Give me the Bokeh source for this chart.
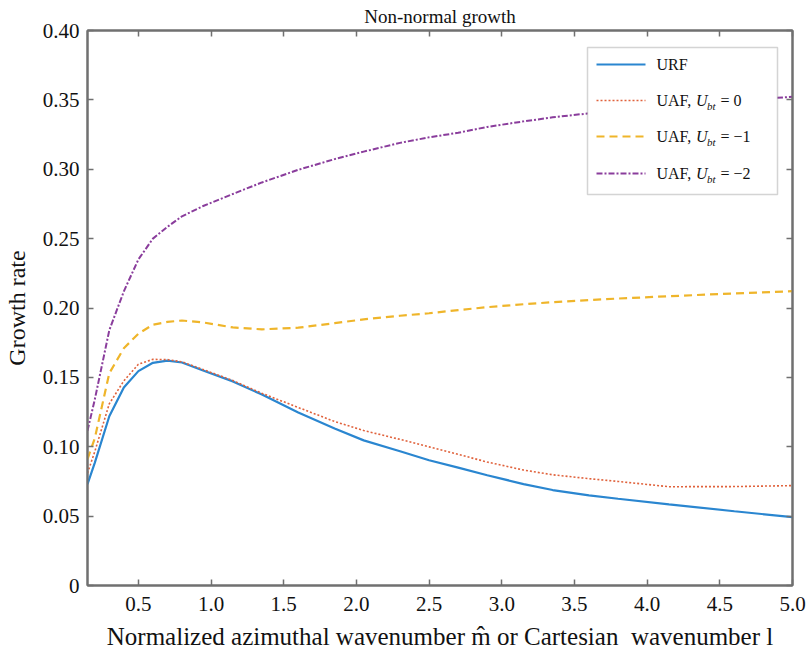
from bokeh.plotting import figure
from bokeh.models import (LinearAxis, FixedTicker, CustomJSTickFormatter, Range1d,
                          Label, Arrow, BoxAnnotation)
from bokeh.embed import file_html
from bokeh.resources import INLINE

# ---------------- data ----------------
wavenumber = [0.15, 0.2, 0.3, 0.4, 0.5, 0.6, 0.7, 0.8, 0.95, 1.15, 1.35, 1.6, 1.85,
              2.05, 2.3, 2.5, 2.7, 2.9, 3.15, 3.35, 3.6, 3.8, 4.15, 4.6, 5.0]
urf = [0.073, 0.0884, 0.122, 0.1427, 0.1545, 0.1605, 0.1621, 0.1607, 0.1548, 0.1471,
       0.1376, 0.1247, 0.1132, 0.1046, 0.0968, 0.0903, 0.0850, 0.0795, 0.0731, 0.0688,
       0.0650, 0.0625, 0.0585, 0.0535, 0.0493]
uaf_0 = [0.081, 0.0965, 0.131, 0.1475, 0.1595, 0.1630, 0.1628, 0.1612, 0.1555, 0.1477,
         0.1385, 0.1283, 0.1182, 0.1117, 0.1053, 0.0999, 0.0945, 0.0890, 0.0832, 0.0798,
         0.0770, 0.0750, 0.0712, 0.0713, 0.0720]
uaf_m1 = [0.091, 0.106, 0.153, 0.171, 0.1815, 0.188, 0.190, 0.191, 0.1895, 0.186,
          0.1846, 0.1858, 0.1891, 0.1918, 0.1944, 0.1962, 0.1985, 0.2006, 0.2027, 0.2042,
          0.2057, 0.2068, 0.2085, 0.2105, 0.2121]
uaf_m2 = [0.1116, 0.134, 0.184, 0.212, 0.235, 0.250, 0.2585, 0.2661, 0.2737, 0.2822,
          0.2905, 0.2996, 0.3073, 0.3127, 0.3190, 0.3230, 0.3263, 0.3305, 0.3345, 0.3374,
          0.3403, 0.3428, 0.3460, 0.3495, 0.3522]

x_ticks = [0.5, 1.0, 1.5, 2.0, 2.5, 3.0, 3.5, 4.0, 4.5, 5.0]
y_ticks = [0.0, 0.05, 0.10, 0.15, 0.20, 0.25, 0.30, 0.35, 0.40]

title_text = "Non-normal growth"
x_label = "Normalized azimuthal wavenumber m\u0302 or Cartesian\u00a0 wavenumber l"
y_label = "Growth rate"
legend_values = ["0", "\u22121", "\u22122"]

# ---------------- layout ----------------
X0, X1 = 0.15, 5.0
Y0, Y1 = 0.0, 0.40
W, H = 806, 655
FL, FR, FT, FB = 87, 792, 30, 585
SERIF = "Liberation Serif"
FRAME = "#707070"

p = figure(width=W, height=H, x_range=Range1d(X0, X1), y_range=Range1d(Y0, Y1),
           output_backend="svg", toolbar_location=None,
           x_axis_location=None, y_axis_location=None,
           min_border_left=FL, min_border_right=W - FR,
           min_border_top=FT, min_border_bottom=H - FB,
           title=title_text)
p.background_fill_color = "white"
p.border_fill_color = "white"
p.outline_line_color = FRAME
p.outline_line_width = 2
p.xgrid.visible = False
p.ygrid.visible = False

p.title.align = "center"
p.title.text_font = SERIF
p.title.text_font_size = "19px"
p.title.text_font_style = "normal"
p.title.text_color = "#111111"
p.title.standoff = 7
p.title.offset = 0

fmt_x = CustomJSTickFormatter(code="return tick.toFixed(1);")
fmt_y = CustomJSTickFormatter(code="return Math.abs(tick) < 1e-9 ? '0' : tick.toFixed(2);")
fmt_none = CustomJSTickFormatter(code="return '';")


def style_axis(ax, labels=True):
    ax.axis_line_color = FRAME
    ax.axis_line_width = 2
    ax.major_tick_line_color = FRAME
    ax.major_tick_line_width = 1.5
    ax.major_tick_in = 6
    ax.major_tick_out = 0
    ax.minor_tick_in = 0
    ax.minor_tick_out = 0
    ax.major_label_text_font = SERIF
    ax.major_label_text_color = "#111111"
    ax.axis_label_text_font = SERIF
    ax.axis_label_text_font_style = "normal"
    ax.axis_label_text_color = "#111111"
    ax.axis_label_text_font_size = "24px"
    if labels:
        ax.major_label_text_font_size = "21px"
        ax.major_label_standoff = 8
    else:
        ax.major_label_text_font_size = "0px"
        ax.major_label_standoff = 0


xb = LinearAxis(ticker=FixedTicker(ticks=x_ticks), formatter=fmt_x, axis_label=x_label)
style_axis(xb)
xb.major_label_standoff = 11
xb.axis_label_text_font_size = "25px"
xb.axis_label_standoff = 9
p.add_layout(xb, "below")

yl = LinearAxis(ticker=FixedTicker(ticks=y_ticks), formatter=fmt_y, axis_label=y_label)
style_axis(yl)
yl.axis_label_standoff = 10
p.add_layout(yl, "left")

xt = LinearAxis(ticker=FixedTicker(ticks=x_ticks), formatter=fmt_none)
style_axis(xt, labels=False)
p.add_layout(xt, "above")

yr = LinearAxis(ticker=FixedTicker(ticks=y_ticks), formatter=fmt_none)
style_axis(yr, labels=False)
p.add_layout(yr, "right")

# ---------------- series ----------------
series = [
    (urf, "#2a86d0", 2.2, "solid"),
    (uaf_0, "#e0623c", 1.6, "2 2"),
    (uaf_m1, "#efb52a", 2.2, "8 5"),
    (uaf_m2, "#8a3d9c", 2.0, "6 2 2 2"),
]
for ys, color, lw, dash in series:
    p.line(wavenumber, ys, line_color=color, line_width=lw, line_dash=dash)

# ---------------- legend (built by hand for the subscripted labels) ----------------
def dx(px):
    return X0 + (px - FL) / (FR - FL) * (X1 - X0)


def dy(py):
    return Y1 - (py - FT) / (FB - FT) * (Y1 - Y0)


box = BoxAnnotation(left=dx(587), right=dx(777), top=dy(47), bottom=dy(194),
                    fill_color="white", fill_alpha=1.0,
                    line_color=FRAME, line_width=1.5)
p.add_layout(box)

rows_py = [64, 100, 136, 173]
for (ys, color, lw, dash), py in zip(series, rows_py):
    p.add_layout(Arrow(start=None, end=None, x_start=dx(596), y_start=dy(py),
                       x_end=dx(645), y_end=dy(py), line_color=color,
                       line_width=lw, line_dash=dash))


def txt(s, px, py, size="16px", style="normal"):
    p.add_layout(Label(x=dx(px), y=dy(py), text=s, text_font=SERIF,
                       text_font_size=size, text_font_style=style,
                       text_color="#111111", text_baseline="middle", text_align="left"))


txt("URF", 656, rows_py[0])
for val, py in zip(legend_values, rows_py[1:]):
    txt("UAF,", 656, py)
    txt("U", 695.5, py, style="italic")
    txt("bt", 706.5, py + 5, size="11px", style="italic")
    txt("= " + val, 720, py)

open("out.html", "w").write(file_html(p, INLINE))
